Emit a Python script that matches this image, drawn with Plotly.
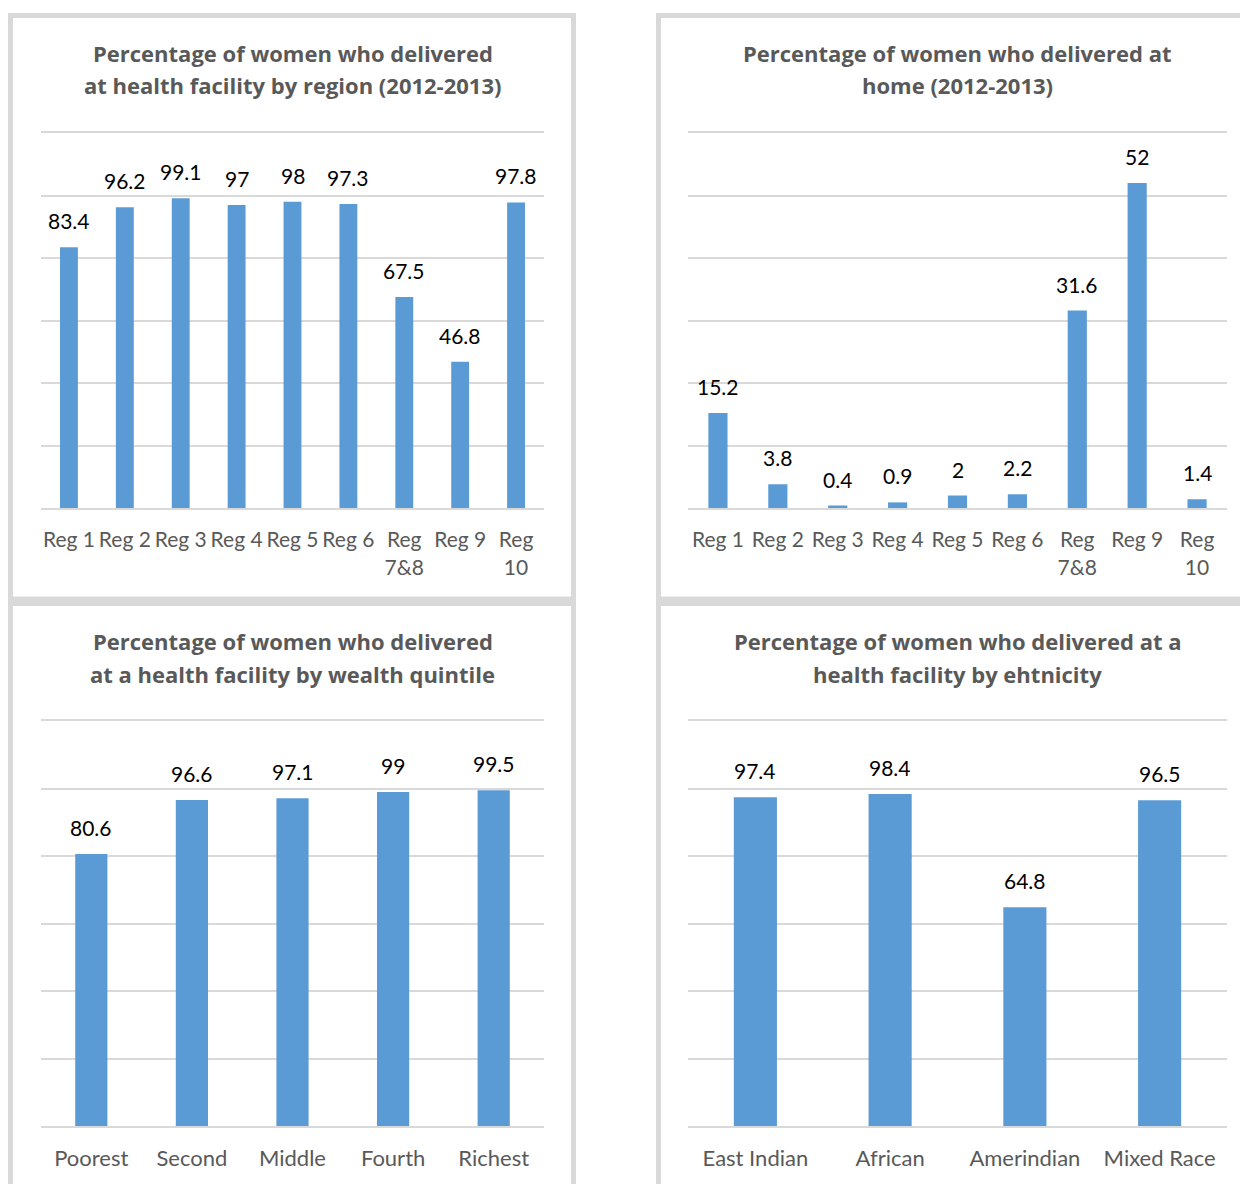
import plotly.graph_objects as go

# ---------------- data ----------------
regions = ["Reg 1", "Reg 2", "Reg 3", "Reg 4", "Reg 5", "Reg 6", "Reg 7&8", "Reg 9", "Reg 10"]
region_ticks = ["Reg 1", "Reg 2", "Reg 3", "Reg 4", "Reg 5", "Reg 6", "Reg<br>7&8", "Reg 9", "Reg<br>10"]
facility_by_region = [83.4, 96.2, 99.1, 97, 98, 97.3, 67.5, 46.8, 97.8]
home_by_region = [15.2, 3.8, 0.4, 0.9, 2, 2.2, 31.6, 52, 1.4]

quintiles = ["Poorest", "Second", "Middle", "Fourth", "Richest"]
facility_by_wealth = [80.6, 96.6, 97.1, 99, 99.5]

ethnicities = ["East Indian", "African", "Amerindian", "Mixed Race"]
facility_by_ethnicity = [97.4, 98.4, 64.8, 96.5]

titles = [
    ["Percentage of women who delivered", "at health facility by region (2012-2013)"],
    ["Percentage of women who delivered at", "home (2012-2013)"],
    ["Percentage of women who delivered", "at a health facility by wealth quintile"],
    ["Percentage of women who delivered at a", "health facility by ehtnicity"],
]

# ---------------- style ----------------
OFF = 8  # page body margin
W, H = 1248 - OFF, 1184 - OFF
BAR = "#5b9bd5"
GRID = "#d9d9d9"
TXT = "#595959"
FONT = "Lato"
TFONT = "Open Sans"


def px_x(p):
    return (p - OFF) / W


def px_y(p):
    return 1 - (p - OFF) / H


panels = [
    # (xdomain px, ydomain px, categories, ticks, values, ymax, dtick, title y px, tick size)
    ((41, 544), (133, 508), regions, region_ticks, facility_by_region, 120, 20, (53, 85), 21),
    ((688, 1227), (133, 508), regions, region_ticks, home_by_region, 60, 10, (53, 85), 21),
    ((41, 544), (721, 1126), quintiles, quintiles, facility_by_wealth, 120, 20, (641, 674), 22),
    ((688, 1227), (721, 1126), ethnicities, ethnicities, facility_by_ethnicity, 120, 20, (641, 674), 22),
]

fig = go.Figure()
annotations = []
for i, (xd, yd, cats, ticks, vals, ymax, dt, ty, tsz) in enumerate(panels):
    n = "" if i == 0 else str(i + 1)
    fig.add_trace(go.Bar(x=cats, y=vals, marker=dict(color=BAR, line=dict(width=0)),
                         xaxis="x" + n, yaxis="y" + n, showlegend=False, hoverinfo="x+y"))
    xdom = [px_x(xd[0]), px_x(xd[1])]
    ydom = [px_y(yd[1]), px_y(yd[0])]
    fig.update_layout(**{
        "xaxis" + n: dict(domain=xdom, anchor="y" + n, type="category",
                          tickmode="array", tickvals=cats, ticktext=ticks, tickangle=0,
                          showline=True, mirror=True, linecolor=GRID, linewidth=2, showgrid=False,
                          ticks="outside", ticklen=12, tickcolor="rgba(0,0,0,0)",
                          tickfont=dict(family=FONT, size=tsz, color=TXT), fixedrange=True),
        "yaxis" + n: dict(domain=ydom, anchor="x" + n, range=[0, ymax], dtick=dt,
                          showgrid=True, gridcolor=GRID, gridwidth=2, zeroline=False,
                          showticklabels=False, showline=False, fixedrange=True),
    })
    for c, v in zip(cats, vals):
        annotations.append(dict(x=c, y=v, xref="x" + n, yref="y" + n, text=f"{v:g}",
                                showarrow=False, yanchor="bottom", yshift=12,
                                font=dict(family=FONT, size=21, color="black")))
    cx = (xd[0] + xd[1]) / 2
    for line, yy in zip(titles[i], ty):
        annotations.append(dict(x=px_x(cx), y=px_y(yy), xref="paper", yref="paper",
                                text="<b>" + line + "</b>", showarrow=False,
                                xanchor="center", yanchor="middle",
                                font=dict(family=TFONT, size=22, color=TXT)))

# panel borders
shapes = []
for (x0, y0, x1, y1) in [(10.5, 15.5, 573.5, 599), (658.5, 15.5, 1260, 599),
                         (10.5, 603.5, 573.5, 1200), (658.5, 603.5, 1260, 1200)]:
    shapes.append(dict(type="rect", xref="paper", yref="paper",
                       x0=px_x(x0), x1=px_x(x1), y0=px_y(y1), y1=px_y(y0),
                       line=dict(color=GRID, width=5), fillcolor="rgba(0,0,0,0)", layer="below"))

fig.update_layout(width=W, height=H, margin=dict(l=0, r=0, t=0, b=0),
                  paper_bgcolor="white", plot_bgcolor="white", bargap=0.68,
                  annotations=annotations, shapes=shapes,
                  font=dict(family=FONT))

fig.write_html("out.html")
